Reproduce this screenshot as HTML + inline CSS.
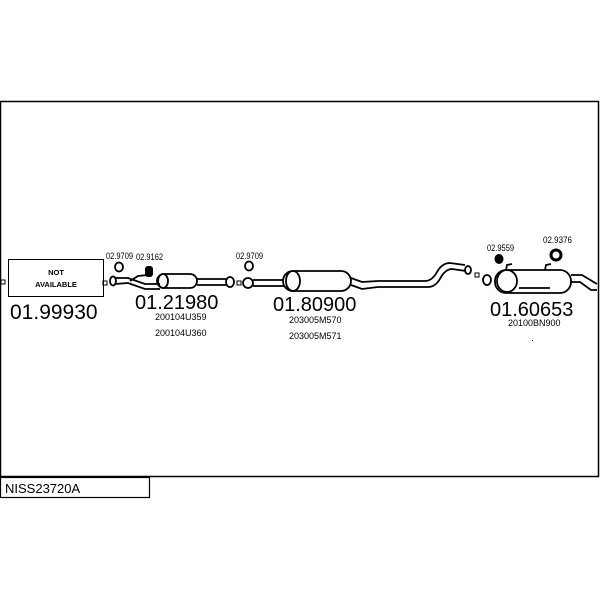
<!DOCTYPE html>
<html><head><meta charset="utf-8"><style>
html,body{margin:0;padding:0;background:#fff;width:600px;height:600px;overflow:hidden}
svg{display:block}
text{font-family:"Liberation Sans",sans-serif;fill:#000}
</style></head><body>
<svg width="600" height="600" viewBox="0 0 600 600">
<rect x="0.5" y="101.5" width="598" height="375" fill="none" stroke="#000" stroke-width="1.5"/>
<rect x="0.5" y="477.5" width="149" height="20" fill="none" stroke="#000" stroke-width="1.2"/>
<text x="5" y="493" font-size="13">NISS23720A</text>

<rect x="8.5" y="259.5" width="95" height="37" fill="#fff" stroke="#000"/>
<text x="56" y="275" font-size="7.5" font-weight="bold" text-anchor="middle">NOT</text>
<text x="56" y="287" font-size="7.5" font-weight="bold" text-anchor="middle">AVAILABLE</text>
<rect x="1" y="280" width="4" height="4" fill="none" stroke="#000"/>
<rect x="103" y="281" width="4" height="4" fill="none" stroke="#000"/>
<text x="10" y="319" font-size="21">01.99930</text>

<g fill="none" stroke="#000" stroke-width="1.8">
<ellipse cx="113" cy="281" rx="3" ry="4.5"/>
<path d="M115 278 L128 278 L145 284 L160 284 M115 284 L128 283 L145 289 L160 289"/>
<path d="M130 281 L138 276 L148 275"/>
<rect x="157" y="274" width="40" height="14" rx="7"/>
<ellipse cx="163" cy="281" rx="5" ry="7"/>
<path d="M197 279 L226 279 M197 285 L226 285"/>
<ellipse cx="230" cy="282" rx="4" ry="5"/>
<ellipse cx="119" cy="267" rx="4" ry="4.5"/>
</g>
<rect x="145" y="266" width="8" height="11" rx="3" fill="#000"/>
<text x="106" y="259" font-size="9.5" textLength="27" lengthAdjust="spacingAndGlyphs">02.9709</text>
<text x="136" y="260" font-size="9.5" textLength="27" lengthAdjust="spacingAndGlyphs">02.9162</text>
<text x="135" y="309" font-size="20">01.21980</text>
<text x="155" y="320" font-size="9">200104U359</text>
<text x="155" y="336" font-size="9">200104U360</text>

<rect x="237" y="281" width="4" height="4" fill="none" stroke="#000"/>
<g fill="none" stroke="#000" stroke-width="1.8">
<ellipse cx="248" cy="283" rx="5" ry="5"/>
<ellipse cx="249" cy="266" rx="4" ry="4.5"/>
<path d="M253 280 L290 280 M253 286 L290 286"/>
<rect x="283" y="271" width="68" height="20" rx="10" fill="#fff"/>
<ellipse cx="293" cy="281" rx="7" ry="10"/>
<path d="M351 278 L362 282 L378 281 L425 281 Q432 281 437 272 Q442 263 450 263 L465 265 M351 285 L362 289 L378 287 L428 287 Q436 287 441 277 Q446 269 452 269 L466 271"/>
<ellipse cx="468" cy="270" rx="3" ry="4"/>
</g>
<rect x="475" y="273" width="4" height="4" fill="none" stroke="#000"/>
<text x="236" y="259" font-size="9.5" textLength="27" lengthAdjust="spacingAndGlyphs">02.9709</text>
<text x="273" y="311" font-size="20">01.80900</text>
<text x="289" y="323" font-size="9">203005M570</text>
<text x="289" y="339" font-size="9">203005M571</text>

<g fill="none" stroke="#000" stroke-width="1.8">
<ellipse cx="487" cy="280" rx="4" ry="5"/>
<rect x="495" y="270" width="76" height="23" rx="11" fill="#fff"/>
<ellipse cx="507" cy="281" rx="10" ry="11"/>
<path d="M506 270 L507 265 L512 264 M545 270 L546 265 L551 264"/>
<path d="M571 275 L582 275 L597 284 M571 282 L580 282 L591 290 L597 290"/>
<path d="M519 288 L550 288"/>
</g>
<ellipse cx="556" cy="255" rx="5" ry="5" fill="none" stroke="#000" stroke-width="3"/>
<ellipse cx="499" cy="259" rx="4.5" ry="5" fill="#000"/>
<text x="487" y="251" font-size="9.5" textLength="27" lengthAdjust="spacingAndGlyphs">02.9559</text>
<text x="543" y="243" font-size="9.5" textLength="29" lengthAdjust="spacingAndGlyphs">02.9376</text>
<text x="490" y="316" font-size="20">01.60653</text>
<text x="508" y="326" font-size="9">20100BN900</text>
<rect x="532" y="340" width="1" height="1" fill="#000"/>
</svg>
</body></html>
